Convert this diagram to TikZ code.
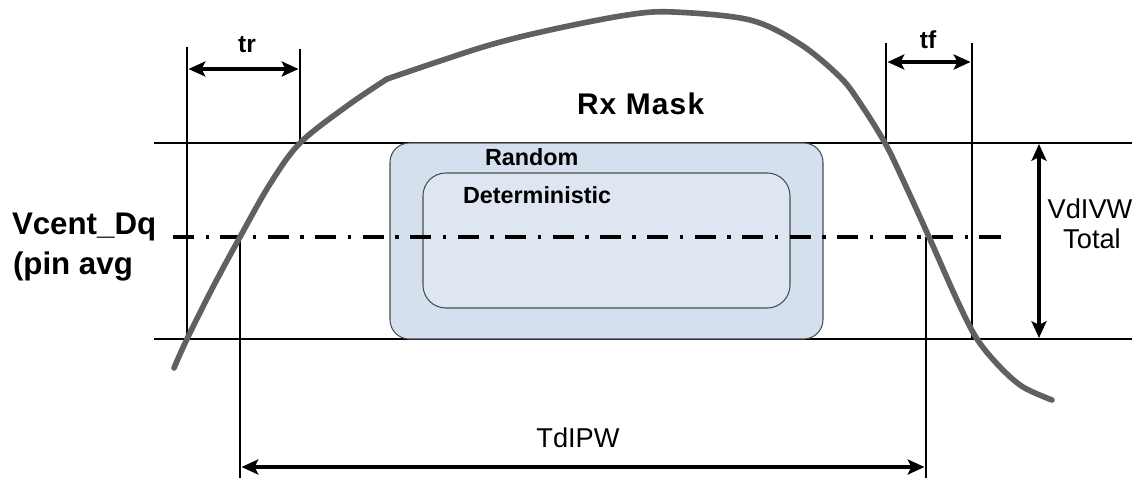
\documentclass[tikz,border=0pt]{standalone}
\usepackage{fontspec}
\setmainfont{Liberation Sans}
\usetikzlibrary{arrows.meta}
\definecolor{curvegray}{RGB}{96,96,96}
\definecolor{maskfill}{RGB}{213,224,238}
\definecolor{maskinner}{RGB}{221,230,241}
\tikzset{
  guide/.style={line width=0.6pt, draw=black},
  dimarrow/.style={line width=2.1pt, {Stealth[length=9.5pt,width=8.5pt,inset=2pt]}-{Stealth[length=9.5pt,width=8.5pt,inset=2pt]}},
  signal/.style={line width=3.2pt, draw=curvegray, line cap=round, line join=round},
  centerline/.style={line width=2.1pt, dash pattern=on 12pt off 6.5pt on 2pt off 6.5pt},
  maskbox/.style={draw=black!70, line width=0.6pt, fill=maskfill, rounded corners=11pt},
  innerbox/.style={draw=black!70, line width=0.6pt, fill=maskinner, rounded corners=13pt},
  lbl/.style={inner sep=0pt, outer sep=0pt},
  bigbold/.style={font=\fontsize{17.8pt}{21pt}\selectfont\bfseries},
  midbold/.style={font=\fontsize{17pt}{20pt}\selectfont\bfseries\addfontfeature{LetterSpace=4}},
  midreg/.style={font=\fontsize{15.5pt}{18pt}\selectfont},
  smallbold/.style={font=\fontsize{13.3pt}{16pt}\selectfont\bfseries},
  tbold/.style={font=\fontsize{14pt}{16pt}\selectfont\bfseries},
}
\begin{document}
\begin{tikzpicture}[x=0.02cm,y=-0.02cm]
\useasboundingbox (0,0) rectangle (1144,479);
% key coordinates
\coordinate (hTL) at (154,143);  \coordinate (hTR) at (1132,143);
\coordinate (hBL) at (154,339);  \coordinate (hBR) at (1132,339);
\coordinate (v1t) at (187,47);   \coordinate (v1b) at (187,339);
\coordinate (v2t) at (300,49);   \coordinate (v2b) at (300,143);
\coordinate (v3t) at (240,237);  \coordinate (v3b) at (240,478);
\coordinate (v4t) at (926,237);  \coordinate (v4b) at (926,478);
\coordinate (v5t) at (886,43);   \coordinate (v5b) at (886,143);
\coordinate (v6t) at (972,43);   \coordinate (v6b) at (972,339);
\coordinate (cl0) at (173,237);  \coordinate (cl1) at (1007,237);
\coordinate (trL) at (188.5,69); \coordinate (trR) at (298.5,69);
\coordinate (tfL) at (887.5,62); \coordinate (tfR) at (970.5,62);
\coordinate (vwT) at (1039,144); \coordinate (vwB) at (1039,338);
\coordinate (twL) at (241.5,467);\coordinate (twR) at (924.5,467);

% horizontal guide lines
\draw[guide] (hTL) -- (hTR);
\draw[guide] (hBL) -- (hBR);

% mask boxes
\draw[maskbox] (390,143) rectangle (823,339);
\draw[innerbox] (423,173) rectangle (790,308);

% vertical guide lines
\draw[guide] (v1t) -- (v1b);
\draw[guide] (v2t) -- (v2b);
\draw[guide] (v3t) -- (v3b);
\draw[guide] (v4t) -- (v4b);
\draw[guide] (v5t) -- (v5b);
\draw[guide] (v6t) -- (v6b);

% center line
\draw[centerline] (cl0) -- (cl1);

% dimension arrows
\draw[dimarrow] (trL) -- (trR);
\draw[dimarrow] (tfL) -- (tfR);
\draw[dimarrow] (vwT) -- (vwB);
\draw[dimarrow] (twL) -- (twR);

% signal curve
\draw[signal] plot[smooth, tension=0.55] coordinates {
  (174,368) (187,339) (213,287) (240,237) (270,184) (300,143) (347,106) (387,79)};
\draw[signal] plot[smooth, tension=0.55] coordinates {
  (387,79) (483,47) (550,30) (627,15) (673,12) (750,20) (800,44) (840,77)
  (860,103) (885,143) (903,180) (929,237) (957,300) (977,339) (1000,367) (1023,387) (1052,400)};

% labels
\node[lbl, tbold, anchor=base] (tr) at (247,53) {tr};
\node[lbl, tbold, anchor=base] (tf) at (928,49) {tf};
\node[lbl, midbold, anchor=base west] (rx) at (577,115) {Rx Mask};
\node[lbl, smallbold, anchor=base west] (rand) at (485,166) {Random};
\node[lbl, smallbold, anchor=base west] (det) at (463,204) {Deterministic};
\node[lbl, bigbold, anchor=base west] (vc1) at (12,235) {Vcent\_Dq};
\node[lbl, bigbold, anchor=base west] (vc2) at (13,275) {(pin avg};
\node[lbl, midreg, anchor=base] (vw1) at (1090,219) {VdIVW};
\node[lbl, midreg, anchor=base] (vw2) at (1092,249) {Total};
\node[lbl, midreg, anchor=base] (tw) at (578,448) {TdIPW};
\end{tikzpicture}
\end{document}
